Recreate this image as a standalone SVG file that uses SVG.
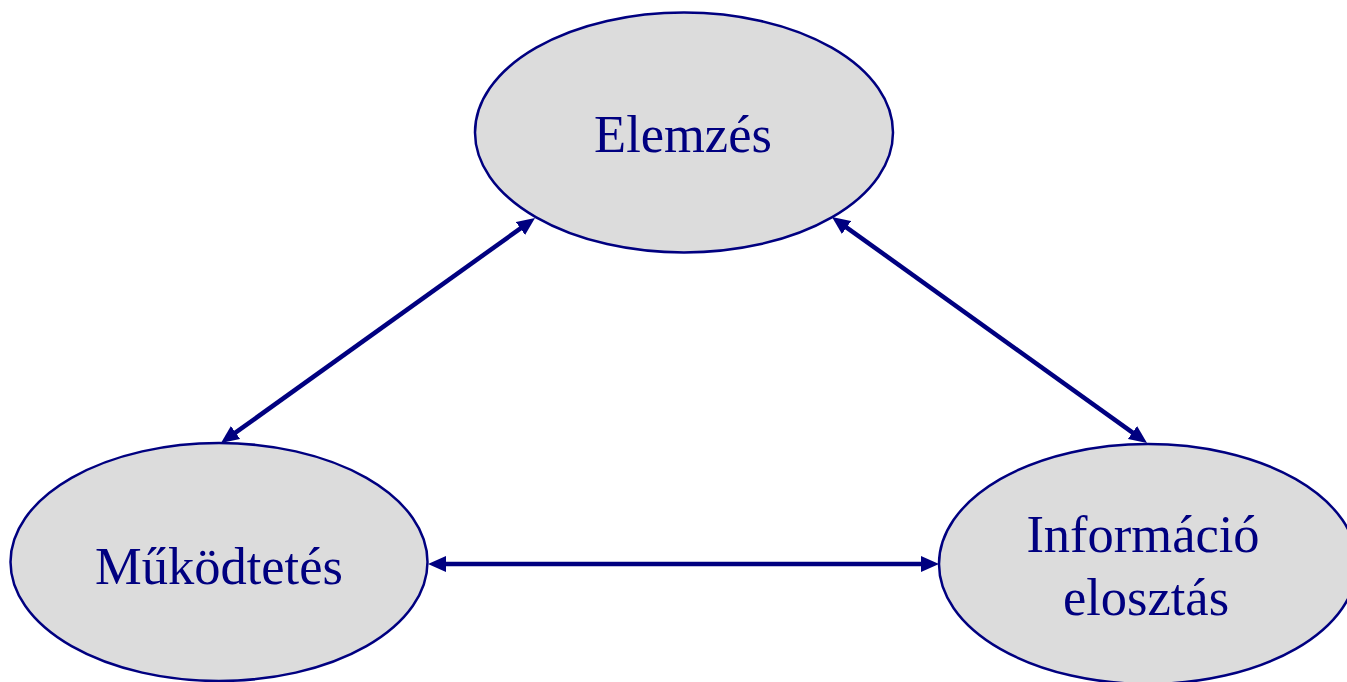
<svg xmlns="http://www.w3.org/2000/svg" width="1347" height="682" viewBox="0 0 1347 682">
  <style>
    .node ellipse { fill: #DCDCDC; stroke: #000080; stroke-width: 2.5; }
    .node text { font-family: "Liberation Serif", "Times New Roman", serif; font-size: 52.5px; fill: #000080; text-anchor: middle; }
    #connectors line { stroke: #000080; stroke-width: 4.5; marker-start: url(#head); marker-end: url(#head); }
  </style>
  <defs>
    <!-- filled arrowhead shared by both ends of every connector -->
    <marker id="head" markerUnits="userSpaceOnUse" markerWidth="18" markerHeight="16" viewBox="0 0 18 16" refX="8" refY="8" orient="auto-start-reverse">
      <path d="M0,0 L18,8 L0,16 z" fill="#000080"/>
    </marker>
  </defs>
  <rect width="1347" height="682" fill="#ffffff"/>

  <g id="node-elemzes" class="node">
    <ellipse cx="684" cy="132.5" rx="209" ry="120"/>
    <text x="683" y="152">Elemzés</text>
  </g>

  <g id="node-mukodtetes" class="node">
    <ellipse cx="219" cy="562" rx="208.5" ry="119"/>
    <text x="219" y="584">Működtetés</text>
  </g>

  <g id="node-informacio" class="node">
    <ellipse cx="1148" cy="564" rx="209" ry="120"/>
    <text x="1143" y="552">Információ</text>
    <text x="1146" y="615">elosztás</text>
  </g>

  <g id="connectors">
    <line x1="526.9" y1="223.8" x2="229.1" y2="437.2"/>
    <line x1="840.1" y1="222.8" x2="1138.9" y2="437.2"/>
    <line x1="438" y1="564" x2="929" y2="564"/>
  </g>
</svg>
